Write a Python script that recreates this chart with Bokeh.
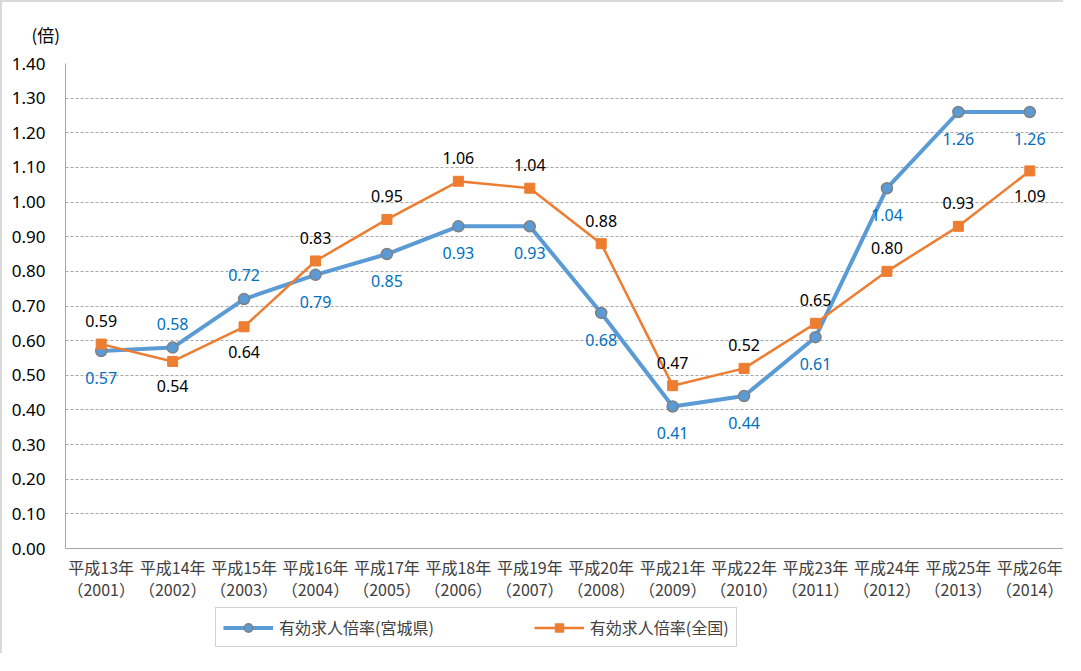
from bokeh.plotting import figure
from bokeh.layouts import column
from bokeh.models import (ColumnDataSource, Legend, LegendItem, Title, FixedTicker,
                          NumeralTickFormatter, Range1d)
from bokeh.core.properties import value
from bokeh.embed import file_html
from bokeh.resources import INLINE

categories = ["平成13年\n（2001）", "平成14年\n（2002）", "平成15年\n（2003）", "平成16年\n（2004）",
              "平成17年\n（2005）", "平成18年\n（2006）", "平成19年\n（2007）", "平成20年\n（2008）",
              "平成21年\n（2009）", "平成22年\n（2010）", "平成23年\n（2011）", "平成24年\n（2012）",
              "平成25年\n（2013）", "平成26年\n（2014）"]
miyagi = [0.57, 0.58, 0.72, 0.79, 0.85, 0.93, 0.93, 0.68, 0.41, 0.44, 0.61, 1.04, 1.26, 1.26]
national = [0.59, 0.54, 0.64, 0.83, 0.95, 1.06, 1.04, 0.88, 0.47, 0.52, 0.65, 0.80, 0.93, 1.09]
# label placement: 1 = above, -1 = below
miyagi_pos = [-1, 1, 1, -1, -1, -1, -1, -1, -1, -1, -1, -1, -1, -1]
national_pos = [1, -1, -1, 1, 1, 1, 1, 1, 1, 1, 1, 1, 1, -1]
series_names = ["有効求人倍率(宮城県)", "有効求人倍率(全国)"]
y_unit = "(倍)"
y_ticks = [round(i * 0.1, 1) for i in range(15)]

BLUE = "#5B9BD5"
ORANGE = "#ED7D31"
LBL_BLUE = "#0070C0"
NUM_FONT = "Noto Sans"
JP_FONT = "Noto Sans CJK JP"

xs = list(range(len(categories)))

p = figure(frame_width=998, frame_height=483, output_backend="svg", toolbar_location=None,
           x_range=Range1d(-0.5, len(categories) - 0.5), y_range=Range1d(0, 1.4),
           min_border_left=63, min_border_right=0, min_border_top=61, min_border_bottom=58)
p.styles = {"border-top": "2px solid #D9D9D9", "border-left": "2px solid #D9D9D9"}
p.outline_line_color = None
p.background_fill_color = "white"
p.border_fill_color = "white"

p.xgrid.grid_line_color = None
p.ygrid.ticker = FixedTicker(ticks=y_ticks)
p.ygrid.grid_line_color = "#A6A6A6"
p.ygrid.grid_line_dash = "3 2"
p.ygrid.grid_line_width = 1

p.yaxis.ticker = FixedTicker(ticks=y_ticks)
p.yaxis.formatter = NumeralTickFormatter(format="0.00")
p.yaxis.axis_line_color = "#A6A6A6"
p.yaxis.major_tick_line_color = None
p.yaxis.minor_tick_line_color = None
p.yaxis.major_label_text_font = NUM_FONT
p.yaxis.major_label_text_font_size = "17px"
p.yaxis.major_label_text_color = "black"
p.yaxis.major_label_standoff = 14

p.xaxis.ticker = FixedTicker(ticks=xs)
p.xaxis.major_label_overrides = {i: c for i, c in enumerate(categories)}
p.xaxis.axis_line_color = "#A6A6A6"
p.xaxis.major_tick_line_color = None
p.xaxis.minor_tick_line_color = None
p.xaxis.major_label_text_font = JP_FONT
p.xaxis.major_label_text_font_size = "16px"
p.xaxis.major_label_text_color = "#404040"
p.xaxis.major_label_text_line_height = 0.95
p.xaxis.major_label_standoff = 0

src = ColumnDataSource(dict(x=xs, m=miyagi, n=national,
                            ml=["%.2f" % v for v in miyagi],
                            nl=["%.2f" % v for v in national],
                            my=[-24 if s > 0 else 27 for s in miyagi_pos],
                            ny=[-23 if s > 0 else 25 for s in national_pos]))

line_m = dict(line_color=BLUE, line_width=4)
mark_m = dict(marker="circle", size=11, fill_color=BLUE, line_color="#808080", line_width=1.5)
line_n = dict(line_color=ORANGE, line_width=2.5)
mark_n = dict(marker="square", size=10, fill_color=ORANGE, line_color=ORANGE)

p.line("x", "m", source=src, **line_m)
p.scatter("x", "m", source=src, **mark_m)
p.line("x", "n", source=src, **line_n)
p.scatter("x", "n", source=src, **mark_n)

p.text("x", "m", text="ml", source=src, y_offset="my", text_align="center",
       text_baseline="middle", text_font=value(NUM_FONT), text_font_size="16px",
       text_color=LBL_BLUE)
p.text("x", "n", text="nl", source=src, y_offset="ny", text_align="center",
       text_baseline="middle", text_font=value(NUM_FONT), text_font_size="16px",
       text_color="black")

p.add_layout(Title(text=y_unit, align="left", offset=-34, standoff=33,
                   text_font=JP_FONT, text_font_size="17px", text_font_style="normal",
                   text_color="black"), "above")

# legend strip below the chart (proxy renderers drawn outside its visible range)
lg = figure(width=1065, height=49, output_backend="svg", toolbar_location=None,
            x_range=Range1d(100, 101), y_range=Range1d(100, 101),
            min_border=0, outline_line_color=None)
lg.axis.visible = False
lg.grid.visible = False
lg.styles = {"border-left": "2px solid #D9D9D9"}
r1 = lg.line("x", "m", source=src, **line_m)
r2 = lg.scatter("x", "m", source=src, **mark_m)
r3 = lg.line("x", "n", source=src, **line_n)
r4 = lg.scatter("x", "n", source=src, **mark_n)

legend = Legend(items=[LegendItem(label=series_names[0], renderers=[r1, r2]),
                       LegendItem(label=series_names[1], renderers=[r3, r4])],
                orientation="horizontal", location=(150, 6),
                label_text_font=JP_FONT, label_text_font_size="16px", label_text_color="#404040",
                label_height=21, glyph_height=21,
                border_line_color="#A6A6A6", border_line_width=1,
                glyph_width=50, spacing=100, padding=7, margin=0,
                label_standoff=6)
lg.add_layout(legend, "center")

layout = column(p, lg, spacing=0)
open("out.html", "w").write(file_html(layout, INLINE))
